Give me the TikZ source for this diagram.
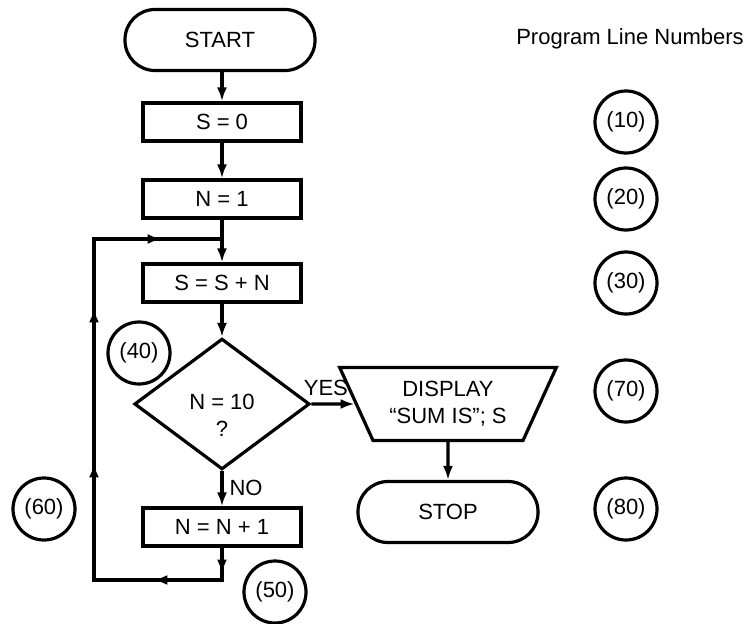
\documentclass[tikz,border=0pt]{standalone}
\usepackage{fontspec}
\setmainfont{Liberation Sans}
\usepackage{tikz}
\usetikzlibrary{calc, shapes.geometric, arrows.meta, decorations.markings, positioning}
\tikzset{
    terminalnode/.style = {draw, rectangle, rounded corners=30pt, minimum width=190pt, minimum height=61pt, node distance=0em},
    processnode/.style = {draw, rectangle, minimum width=158pt, minimum height=38pt, inner sep=0pt, node distance=0em},
    decisionnode/.style = {draw, diamond, aspect=1.34, minimum width=172pt, minimum height=128pt, inner sep=0pt, node distance=0em},
    displaynode/.style = {draw, trapezium, trapezium left angle=60, trapezium right angle=60, shape border rotate=180,
      trapezium stretches=true, minimum width=217pt, minimum height=73pt, inner sep=0pt, node distance=0em},
    numbernode/.style = {draw, circle, minimum size=62pt, inner sep=0pt, node distance=0em},
    textnode/.style = {draw=none, fill=none, rectangle, inner sep=0pt, node distance=0em},
    every node/.style = {line width=3.2pt, font=\fontsize{22}{27}\selectfont},
    every text node part/.style={align=center},
    >={Latex[length=14pt,width=10pt]},
    connect/.style = {black, line width=3.2pt, ->},
    loopline/.style = {black, line width=3.2pt, postaction={decorate}, decoration={markings,
      mark=at position 26pt with {\arrow{>}},
      mark=at position 101pt with {\arrow{>}},
      mark=at position 277pt with {\arrow{>}},
      mark=at position 432pt with {\arrow{>}},
      mark=at position 569pt with {\arrow{>}}}}
}
\begin{document}
\begin{tikzpicture}[x=1pt, y=1pt, node distance=0em]
\useasboundingbox (0,0) rectangle (745,-624);

\node[terminalnode, name=start] at (220,-40) {START};
\node[processnode, name=init, below of=start, yshift=-82pt, xshift=2pt] {S = 0};
\node[processnode, name=count, below of=init, yshift=-77pt] {N = 1};
\node[processnode, name=sum, below of=count, yshift=-84pt] {S = S + N};
\node[decisionnode, name=test, below of=sum, yshift=-121pt]
	{\raisebox{0pt}[\dimexpr\height+28pt\relax][\depth]{\begin{tabular}{@{}c@{}}N = 10\\?\end{tabular}}};
\node[processnode, name=inc, below of=test, yshift=-123pt] {N = N + 1};
\node[displaynode, name=display, right of=test, xshift=226pt] {DISPLAY\\“SUM IS”; S};
\node[terminalnode, name=stop, below of=display, yshift=-108pt, minimum width=180pt] {STOP};

\node[numbernode, name=l10, right of=init, xshift=404pt] {(10)};
\node[numbernode, name=l20, right of=count, xshift=404pt] {(20)};
\node[numbernode, name=l30, right of=sum, xshift=404pt] {(30)};
\node[numbernode, name=l70, right of=display, xshift=178pt, yshift=13pt] {(70)};
\node[numbernode, name=l80, right of=stop, xshift=178pt, yshift=3pt] {(80)};
\node[numbernode, name=l40, left of=test, xshift=-83pt, yshift=51pt] {(40)};
\node[numbernode, name=l60, left of=inc, xshift=-178pt, yshift=18pt] {(60)};
\node[numbernode, name=l50, right of=inc, xshift=53pt, yshift=-65pt] {(50)};
\node[textnode, name=title, above of=l10, xshift=4pt, yshift=83pt] {Program Line Numbers};

\coordinate[below of=count, yshift=-40pt] (join);
\coordinate[below of=inc, yshift=-53pt] (botr);
\coordinate[left of=botr, xshift=-128pt] (botl);
\coordinate (topl) at (botl |- join);

\draw[connect] (start.south -| init.north) -- (init.north);
\draw[connect] (init.south) -- (count.north);
\draw[connect] (count.south) -- (sum.north);
\draw[connect] (sum.south) -- (test.north);
\draw[connect] (test.south) -- (inc.north);
\draw[connect] (test.east) -- (display);
\draw[connect] (display) -- (stop);
\draw[loopline] (inc.south) -- (botr) -- (botl) -- (topl) -- (join);

\node[textnode, name=yes, anchor=base west] at ($(test.east)+(-9pt,9pt)$) {YES};
\node[textnode, name=no, anchor=base west] at ($(test.south)+(6pt,-24pt)$) {NO};
\end{tikzpicture}
\end{document}
